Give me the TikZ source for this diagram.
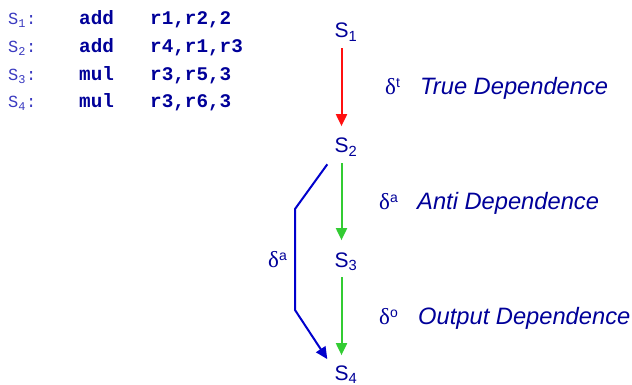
\documentclass[tikz,border=0pt]{standalone}
\usepackage{fontspec}
\setmainfont{Liberation Sans}
\setmonofont{Liberation Mono}
\newfontfamily\grk{Liberation Serif}
\usetikzlibrary{arrows.meta}
\definecolor{txtblue}{HTML}{000099}
\definecolor{lblblue}{HTML}{3A3AC0}
\definecolor{arrred}{HTML}{FF1010}
\definecolor{arrgreen}{HTML}{33CC33}
\definecolor{arrblue}{HTML}{0000CC}
\newcommand{\dep}[1]{{\grk\fontsize{23}{23}\selectfont δ}\raisebox{7pt}{\fontsize{14}{14}\selectfont #1}}
\tikzset{
  snode/.style={inner sep=0pt, text=txtblue, font=\fontsize{21}{21}\selectfont},
  code/.style={anchor=base west, inner sep=0pt, text=txtblue, font=\ttfamily\bfseries\fontsize{19.3}{19.3}\selectfont},
  codelbl/.style={anchor=base west, inner sep=0pt, text=lblblue, font=\ttfamily\fontsize{17}{17}\selectfont},
  deplbl/.style={anchor=base west, inner sep=0pt, text=txtblue, font=\itshape\fontsize{23.7}{23.7}\selectfont},
  symlbl/.style={anchor=base west, inner sep=0pt, text=txtblue},
  depline/.style={line width=2pt, -{Triangle[width=11pt,length=12pt]}},
}
\begin{document}
\begin{tikzpicture}[x=1pt,y=-1pt]
\useasboundingbox (0,0) rectangle (632,385);
% code listing
\node[codelbl] (l1) at (8,25) {S\textsubscript{1}:};
\node[codelbl] (l2) at (8,53) {S\textsubscript{2}:};
\node[codelbl] (l3) at (8,81) {S\textsubscript{3}:};
\node[codelbl] (l4) at (8,108) {S\textsubscript{4}:};
\node[code] (o1) at (79,25) {add};
\node[code] (o2) at (79,53) {add};
\node[code] (o3) at (79,81) {mul};
\node[code] (o4) at (79,108) {mul};
\node[code] (a1) at (150,25) {r1,r2,2};
\node[code] (a2) at (150,53) {r4,r1,r3};
\node[code] (a3) at (150,81) {r3,r5,3};
\node[code] (a4) at (150,108) {r3,r6,3};
% statement nodes
\node[snode, anchor=base] (s1) at (341.5,38) {S\rlap{\textsubscript{1}}};
\node[snode, anchor=base] (s2) at (341.5,153) {S\rlap{\textsubscript{2}}};
\node[snode, anchor=base] (s3) at (341.5,267) {S\rlap{\textsubscript{3}}};
\node[snode, anchor=base] (s4) at (341.5,380) {S\rlap{\textsubscript{4}}};
% arrows
\draw[depline, arrred, shorten <=7pt, shorten >=12pt] (s1.south) -- (s2.north);
\draw[depline, arrgreen, shorten <=7pt, shorten >=12pt] (s2.south) -- (s3.north);
\draw[depline, arrgreen, shorten <=7pt, shorten >=10pt] (s3.south) -- (s4.north);
\coordinate (b1) at (295,209);
\coordinate (b2) at (295,310);
\draw[depline, arrblue, line join=miter] ([shift={(-7,8)}]s2.south west) -- (b1) -- (b2) -- ([shift={(-7,-6)}]s4.north west);
% labels
\node[symlbl] (d1) at (385,95) {\dep{t}};
\node[deplbl] (t1) at (420,95) {True Dependence};
\node[symlbl] (d2) at (379,209) {\dep{a}};
\node[deplbl] (t2) at (417,209) {Anti Dependence};
\node[symlbl] (d3) at (379,324) {\dep{o}};
\node[deplbl] (t3) at (418,324) {Output Dependence};
\node[symlbl] (d4) at (268,267) {\dep{a}};
\end{tikzpicture}
\end{document}
